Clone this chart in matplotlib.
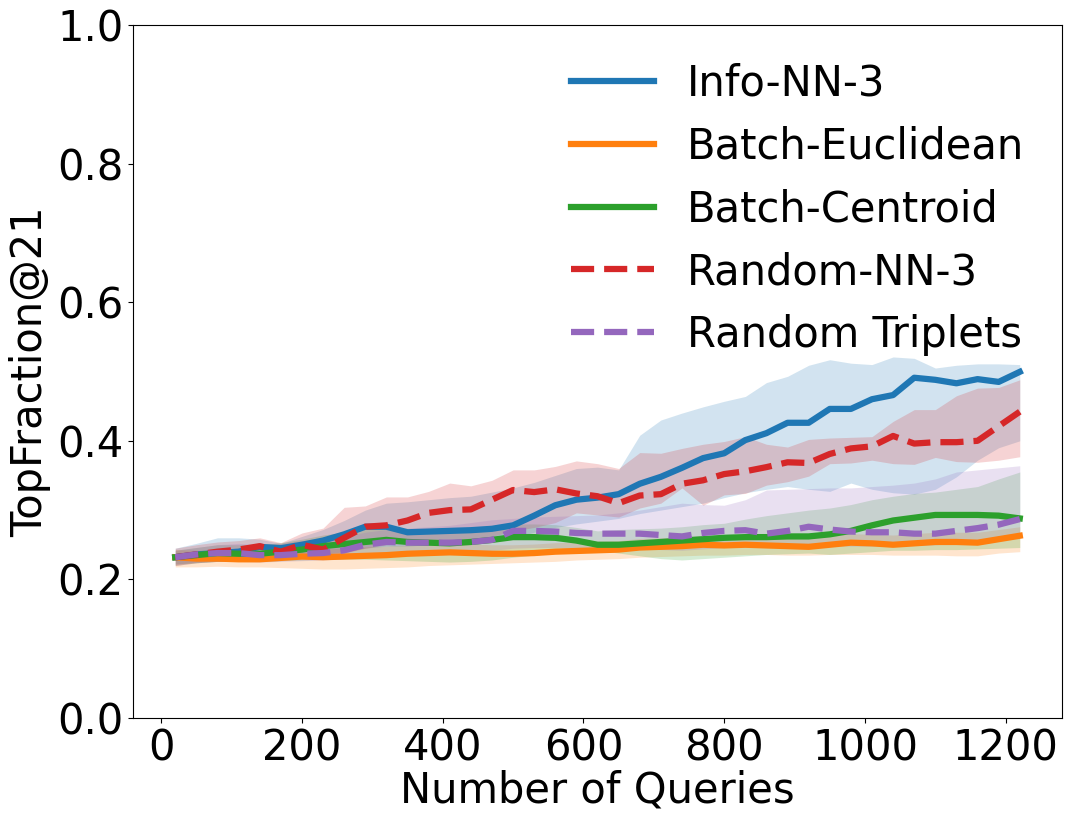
import numpy as np
import matplotlib
matplotlib.use("Agg")
import matplotlib.pyplot as plt

queries = list(range(20, 1221, 30))

info_nn3 = [0.232, 0.236, 0.238, 0.240, 0.247, 0.245, 0.250, 0.256, 0.265, 0.276,
            0.276, 0.268, 0.269, 0.270, 0.271, 0.273, 0.278, 0.292, 0.307, 0.315,
            0.318, 0.323, 0.338, 0.348, 0.361, 0.375, 0.382, 0.401, 0.411, 0.426,
            0.426, 0.446, 0.446, 0.460, 0.466, 0.491, 0.488, 0.483, 0.489, 0.485, 0.4995]
info_nn3_lo = [0.220, 0.224, 0.226, 0.228, 0.232, 0.232, 0.234, 0.236, 0.240, 0.245,
               0.248, 0.248, 0.250, 0.252, 0.254, 0.256, 0.260, 0.268, 0.275, 0.280,
               0.284, 0.288, 0.295, 0.300, 0.305, 0.310, 0.318, 0.325, 0.330, 0.334,
               0.330, 0.327, 0.339, 0.330, 0.325, 0.323, 0.330, 0.348, 0.372, 0.390, 0.400]
info_nn3_hi = [0.245, 0.252, 0.260, 0.260, 0.258, 0.252, 0.262, 0.272, 0.285, 0.300,
               0.310, 0.312, 0.315, 0.318, 0.320, 0.326, 0.332, 0.340, 0.350, 0.360,
               0.362, 0.358, 0.408, 0.430, 0.440, 0.449, 0.457, 0.464, 0.484, 0.493,
               0.509, 0.517, 0.512, 0.510, 0.521, 0.519, 0.505, 0.509, 0.511, 0.511, 0.510]

batch_euclid = [0.232, 0.230, 0.230, 0.229, 0.229, 0.231, 0.233, 0.232, 0.233, 0.234,
                0.235, 0.237, 0.238, 0.239, 0.238, 0.237, 0.237, 0.238, 0.240, 0.241,
                0.242, 0.243, 0.246, 0.247, 0.248, 0.250, 0.249, 0.250, 0.249, 0.248,
                0.247, 0.250, 0.253, 0.252, 0.250, 0.252, 0.254, 0.254, 0.253, 0.258, 0.263]
batch_euclid_lo = [0.218, 0.218, 0.219, 0.218, 0.218, 0.217, 0.216, 0.215, 0.215, 0.216,
                   0.217, 0.218, 0.220, 0.221, 0.222, 0.223, 0.224, 0.225, 0.226, 0.228,
                   0.229, 0.230, 0.232, 0.233, 0.234, 0.235, 0.235, 0.236, 0.236, 0.235,
                   0.235, 0.236, 0.236, 0.236, 0.235, 0.235, 0.235, 0.234, 0.234, 0.238, 0.240]
batch_euclid_hi = [0.243, 0.242, 0.242, 0.241, 0.241, 0.243, 0.245, 0.244, 0.245, 0.247,
                   0.248, 0.250, 0.251, 0.252, 0.251, 0.250, 0.250, 0.251, 0.253, 0.254,
                   0.255, 0.256, 0.259, 0.260, 0.261, 0.263, 0.262, 0.263, 0.262, 0.261,
                   0.260, 0.263, 0.266, 0.265, 0.264, 0.266, 0.268, 0.268, 0.268, 0.272, 0.276]

batch_centroid = [0.232, 0.235, 0.238, 0.237, 0.237, 0.240, 0.243, 0.248, 0.251, 0.254,
                  0.257, 0.254, 0.253, 0.252, 0.254, 0.257, 0.261, 0.261, 0.260, 0.256,
                  0.250, 0.250, 0.252, 0.254, 0.256, 0.258, 0.260, 0.261, 0.261, 0.262,
                  0.262, 0.265, 0.270, 0.278, 0.285, 0.289, 0.293, 0.293, 0.293, 0.292, 0.288]
batch_centroid_lo = [0.222, 0.224, 0.226, 0.226, 0.226, 0.227, 0.228, 0.229, 0.229, 0.229,
                     0.228, 0.227, 0.226, 0.225, 0.226, 0.228, 0.232, 0.235, 0.238, 0.240,
                     0.242, 0.238, 0.234, 0.230, 0.228, 0.230, 0.232, 0.234, 0.236, 0.237,
                     0.238, 0.236, 0.238, 0.240, 0.242, 0.242, 0.243, 0.243, 0.244, 0.245, 0.246]
batch_centroid_hi = [0.242, 0.246, 0.250, 0.250, 0.250, 0.253, 0.258, 0.264, 0.268, 0.272,
                     0.275, 0.273, 0.272, 0.272, 0.274, 0.277, 0.280, 0.280, 0.279, 0.275,
                     0.270, 0.272, 0.273, 0.274, 0.276, 0.279, 0.281, 0.287, 0.292, 0.296,
                     0.300, 0.303, 0.308, 0.315, 0.320, 0.324, 0.326, 0.330, 0.334, 0.345, 0.355]

random_nn3 = [0.232, 0.236, 0.240, 0.243, 0.248, 0.240, 0.250, 0.243, 0.260, 0.276,
              0.278, 0.285, 0.296, 0.300, 0.301, 0.315, 0.329, 0.326, 0.330, 0.324,
              0.320, 0.310, 0.321, 0.323, 0.338, 0.343, 0.352, 0.356, 0.362, 0.369,
              0.368, 0.381, 0.389, 0.392, 0.407, 0.396, 0.398, 0.398, 0.400, 0.421, 0.442]
random_nn3_lo = [0.220, 0.224, 0.226, 0.228, 0.230, 0.228, 0.233, 0.235, 0.238, 0.245,
                 0.250, 0.252, 0.254, 0.256, 0.258, 0.262, 0.270, 0.275, 0.282, 0.296,
                 0.293, 0.290, 0.303, 0.310, 0.332, 0.307, 0.322, 0.324, 0.336, 0.341,
                 0.349, 0.367, 0.368, 0.372, 0.367, 0.366, 0.376, 0.370, 0.369, 0.372, 0.377]
random_nn3_hi = [0.245, 0.250, 0.254, 0.256, 0.260, 0.253, 0.267, 0.274, 0.304, 0.306,
                 0.319, 0.319, 0.327, 0.339, 0.335, 0.343, 0.358, 0.358, 0.363, 0.371,
                 0.367, 0.360, 0.383, 0.382, 0.389, 0.395, 0.399, 0.406, 0.395, 0.391,
                 0.402, 0.404, 0.405, 0.406, 0.428, 0.445, 0.445, 0.465, 0.476, 0.477, 0.488]

random_trip = [0.232, 0.236, 0.238, 0.238, 0.235, 0.235, 0.237, 0.238, 0.242, 0.250,
               0.254, 0.253, 0.253, 0.253, 0.254, 0.257, 0.270, 0.270, 0.269, 0.267,
               0.266, 0.266, 0.266, 0.264, 0.262, 0.267, 0.270, 0.271, 0.266, 0.270,
               0.276, 0.272, 0.269, 0.268, 0.268, 0.266, 0.266, 0.270, 0.274, 0.279, 0.287]
random_trip_lo = [0.222, 0.225, 0.226, 0.226, 0.225, 0.226, 0.227, 0.228, 0.230, 0.234,
                  0.236, 0.237, 0.238, 0.239, 0.240, 0.242, 0.245, 0.246, 0.246, 0.245,
                  0.244, 0.244, 0.244, 0.243, 0.242, 0.244, 0.246, 0.247, 0.246, 0.247,
                  0.249, 0.249, 0.248, 0.248, 0.249, 0.249, 0.250, 0.252, 0.254, 0.257, 0.262]
random_trip_hi = [0.242, 0.246, 0.250, 0.252, 0.250, 0.252, 0.256, 0.258, 0.262, 0.268,
                  0.272, 0.274, 0.276, 0.278, 0.282, 0.286, 0.288, 0.290, 0.291, 0.292,
                  0.293, 0.296, 0.300, 0.305, 0.310, 0.308, 0.307, 0.315, 0.329, 0.330,
                  0.331, 0.332, 0.332, 0.334, 0.336, 0.339, 0.345, 0.355, 0.358, 0.361, 0.364]

series = [
    ("Info-NN-3", info_nn3, info_nn3_lo, info_nn3_hi, "#1f77b4", "-"),
    ("Batch-Euclidean", batch_euclid, batch_euclid_lo, batch_euclid_hi, "#ff7f0e", "-"),
    ("Batch-Centroid", batch_centroid, batch_centroid_lo, batch_centroid_hi, "#2ca02c", "-"),
    ("Random-NN-3", random_nn3, random_nn3_lo, random_nn3_hi, "#d62728", "--"),
    ("Random Triplets", random_trip, random_trip_lo, random_trip_hi, "#9467bd", "--"),
]

plt.rcParams["font.size"] = 30
fig = plt.figure(figsize=(10.71, 8.23), dpi=100)
ax = fig.add_axes([0.1242, 0.1276, 0.8674, 0.842])

x = np.array(queries)
for name, m, lo, hi, c, ls in series:
    ax.plot(x, m, color=c, linestyle=ls, linewidth=4.5, label=name)
    ax.fill_between(x, lo, hi, color=c, alpha=0.2, linewidth=0)

ax.set_ylim(0, 1.0)
ax.set_xticks([0, 200, 400, 600, 800, 1000, 1200])
ax.set_yticks([0.0, 0.2, 0.4, 0.6, 0.8, 1.0])
ax.set_xlabel("Number of Queries", labelpad=0)
ax.set_ylabel("TopFraction@21")
ax.legend(loc="upper right", frameon=False)

fig.savefig("out.png", dpi=100)
